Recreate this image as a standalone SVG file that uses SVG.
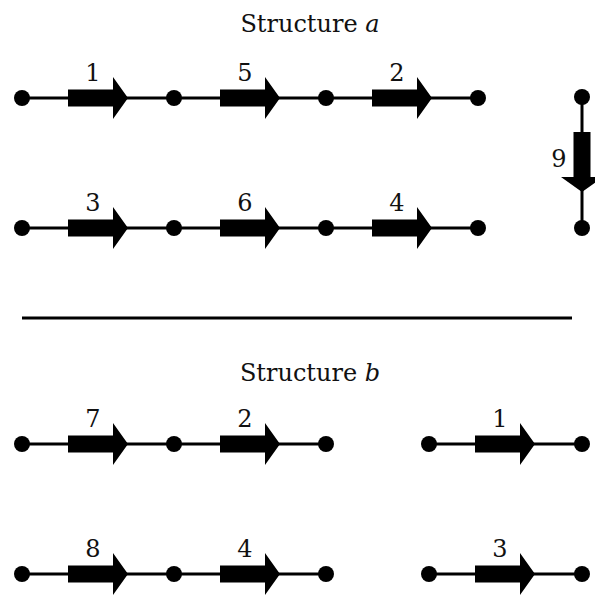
<svg xmlns="http://www.w3.org/2000/svg" xmlns:xlink="http://www.w3.org/1999/xlink" width="595" height="599" viewBox="0 0 595 599">
  <style>
    .bg { fill: #ffffff; }
    .wire { stroke: #000; stroke-width: 3; fill: none; }
    .dot { fill: #000; }
    .arrow { fill: #000; }
    .lbl { font-family: "DejaVu Serif", "Liberation Serif", serif; font-size: 24px; fill: #111; text-anchor: middle; }
    .title { font-family: "DejaVu Serif", "Liberation Serif", serif; font-size: 24px; fill: #111; text-anchor: middle; }
    .it { font-style: italic; }
  </style>
  <defs>
    <!-- block arrow, origin at the tail node, pointing +x -->
    <path id="blk" d="M46,-8.5 H91 V-21 L106,0 L91,21 V8.5 H46 Z"/>
  </defs>
  <rect class="bg" x="0" y="0" width="595" height="599"/>

  <text class="title" x="310" y="32">Structure <tspan class="it">a</tspan></text>
  <text class="title" x="310" y="381">Structure <tspan class="it">b</tspan></text>

  <!-- separator -->
  <line class="wire" x1="22" y1="318" x2="572" y2="318"/>

  <g id="connectors">
    <!-- structure a, row 1 -->
    <line class="wire" x1="22" y1="98" x2="478" y2="98"/>
    <use href="#blk" class="arrow" transform="translate(22,98)"/>
    <use href="#blk" class="arrow" transform="translate(174,98)"/>
    <use href="#blk" class="arrow" transform="translate(326,98)"/>
    <text class="lbl" x="93" y="81">1</text>
    <text class="lbl" x="245" y="81">5</text>
    <text class="lbl" x="397" y="81">2</text>

    <!-- structure a, row 2 -->
    <line class="wire" x1="22" y1="228" x2="478" y2="228"/>
    <use href="#blk" class="arrow" transform="translate(22,228)"/>
    <use href="#blk" class="arrow" transform="translate(174,228)"/>
    <use href="#blk" class="arrow" transform="translate(326,228)"/>
    <text class="lbl" x="93" y="211">3</text>
    <text class="lbl" x="245" y="211">6</text>
    <text class="lbl" x="397" y="211">4</text>

    <!-- structure a, vertical -->
    <line class="wire" x1="582" y1="97" x2="582" y2="228"/>
    <use href="#blk" class="arrow" transform="translate(582,86) rotate(90)"/>
    <text class="lbl" x="559" y="167">9</text>

    <!-- structure b, row 1 -->
    <line class="wire" x1="22" y1="444" x2="326" y2="444"/>
    <use href="#blk" class="arrow" transform="translate(22,444)"/>
    <use href="#blk" class="arrow" transform="translate(174,444)"/>
    <text class="lbl" x="93" y="427">7</text>
    <text class="lbl" x="245" y="427">2</text>
    <line class="wire" x1="429" y1="444" x2="582" y2="444"/>
    <use href="#blk" class="arrow" transform="translate(429,444)"/>
    <text class="lbl" x="500" y="427">1</text>

    <!-- structure b, row 2 -->
    <line class="wire" x1="22" y1="574" x2="326" y2="574"/>
    <use href="#blk" class="arrow" transform="translate(22,574)"/>
    <use href="#blk" class="arrow" transform="translate(174,574)"/>
    <text class="lbl" x="93" y="557">8</text>
    <text class="lbl" x="245" y="557">4</text>
    <line class="wire" x1="429" y1="574" x2="582" y2="574"/>
    <use href="#blk" class="arrow" transform="translate(429,574)"/>
    <text class="lbl" x="500" y="557">3</text>
  </g>

  <!-- structure a nodes -->
  <g id="a1-n1"><circle class="dot" cx="22" cy="98" r="8"/></g>
  <g id="a1-n2"><circle class="dot" cx="174" cy="98" r="8"/></g>
  <g id="a1-n3"><circle class="dot" cx="326" cy="98" r="8"/></g>
  <g id="a1-n4"><circle class="dot" cx="478" cy="98" r="8"/></g>
  <g id="a2-n1"><circle class="dot" cx="22" cy="228" r="8"/></g>
  <g id="a2-n2"><circle class="dot" cx="174" cy="228" r="8"/></g>
  <g id="a2-n3"><circle class="dot" cx="326" cy="228" r="8"/></g>
  <g id="a2-n4"><circle class="dot" cx="478" cy="228" r="8"/></g>
  <g id="av-n1"><circle class="dot" cx="582" cy="97" r="8"/></g>
  <g id="av-n2"><circle class="dot" cx="582" cy="228" r="8"/></g>

  <!-- structure b nodes -->
  <g id="b1-n1"><circle class="dot" cx="22" cy="444" r="8"/></g>
  <g id="b1-n2"><circle class="dot" cx="174" cy="444" r="8"/></g>
  <g id="b1-n3"><circle class="dot" cx="326" cy="444" r="8"/></g>
  <g id="b1-n4"><circle class="dot" cx="429" cy="444" r="8"/></g>
  <g id="b1-n5"><circle class="dot" cx="582" cy="444" r="8"/></g>
  <g id="b2-n1"><circle class="dot" cx="22" cy="574" r="8"/></g>
  <g id="b2-n2"><circle class="dot" cx="174" cy="574" r="8"/></g>
  <g id="b2-n3"><circle class="dot" cx="326" cy="574" r="8"/></g>
  <g id="b2-n4"><circle class="dot" cx="429" cy="574" r="8"/></g>
  <g id="b2-n5"><circle class="dot" cx="582" cy="574" r="8"/></g>
</svg>
